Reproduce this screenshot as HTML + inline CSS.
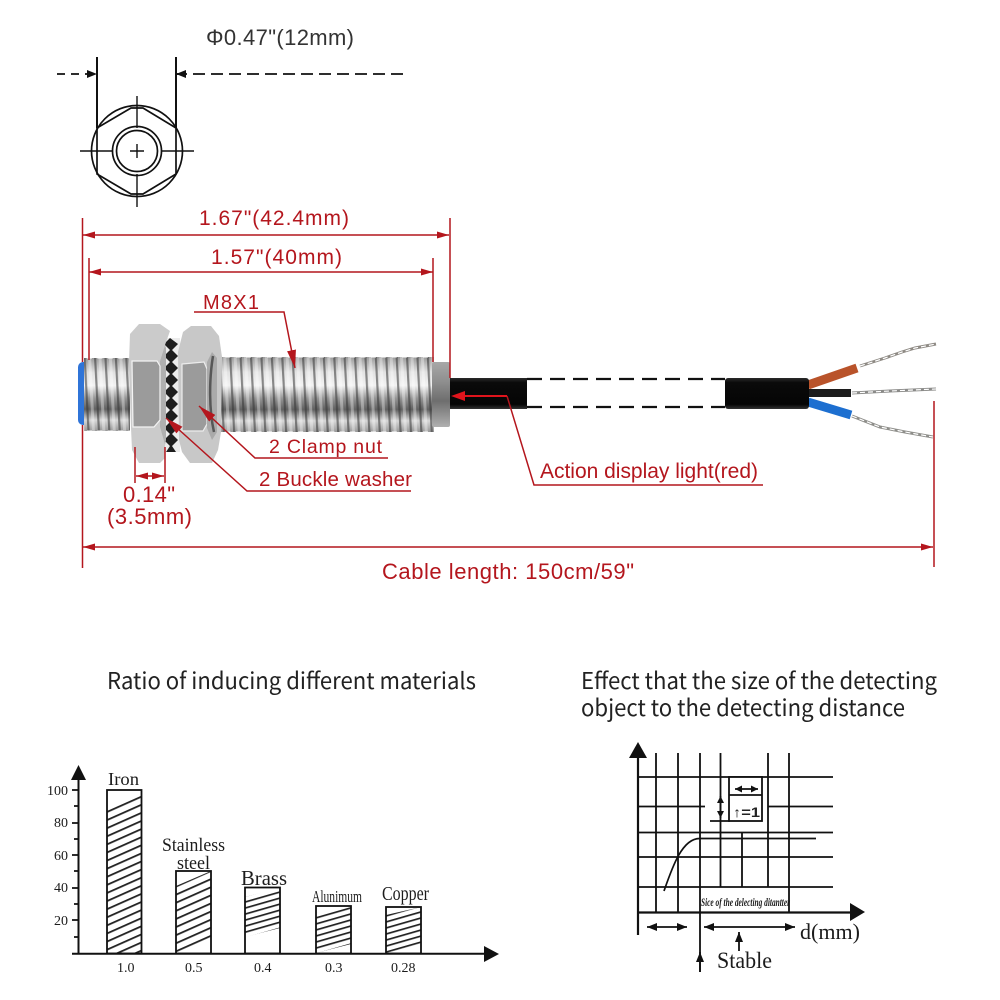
<!DOCTYPE html>
<html>
<head>
<meta charset="utf-8">
<style>
html,body{margin:0;padding:0;background:#fff;width:1000px;height:1000px;overflow:hidden}
svg{display:block}
.r{font-family:"Liberation Sans",sans-serif;fill:#b4161d;font-size:21px}
.h{font-family:"Noto Sans CJK SC","Liberation Sans",sans-serif;fill:#222;font-size:23px}
.t{font-family:"Liberation Serif",serif;fill:#1c1c1c}
</style>
</head>
<body>
<svg width="1000" height="1000" viewBox="0 0 1000 1000" xmlns="http://www.w3.org/2000/svg">
<defs>
<linearGradient id="metal" x1="0" y1="0" x2="0" y2="1">
<stop offset="0" stop-color="#9a9a9a"/><stop offset=".2" stop-color="#e2e2e2"/><stop offset=".38" stop-color="#f2f2f2"/><stop offset=".55" stop-color="#969696"/><stop offset=".7" stop-color="#606060"/><stop offset=".85" stop-color="#d8d8d8"/><stop offset="1" stop-color="#989898"/>
</linearGradient>
<linearGradient id="col" x1="0" y1="0" x2="0" y2="1">
<stop offset="0" stop-color="#a8a8a8"/><stop offset=".3" stop-color="#8f8f8f"/><stop offset=".6" stop-color="#6e6e6e"/><stop offset="1" stop-color="#b0b0b0"/>
</linearGradient>
<linearGradient id="cab" x1="0" y1="0" x2="0" y2="1">
<stop offset="0" stop-color="#2a2a2a"/><stop offset=".15" stop-color="#0a0a0a"/><stop offset=".85" stop-color="#050505"/><stop offset="1" stop-color="#333"/>
</linearGradient>
<pattern id="thread" patternUnits="userSpaceOnUse" width="10.4" height="90" patternTransform="translate(0 350) skewX(3)">
<rect x="0" y="0" width="2.2" height="90" fill="#333" opacity=".55"/>
<rect x="4.500" y="0" width="3" height="90" fill="#fff" opacity=".35"/>
</pattern>
<pattern id="hatch" patternUnits="userSpaceOnUse" width="20" height="7.4" patternTransform="rotate(-24)">
<rect width="20" height="1.8" fill="#222"/>
</pattern>
<pattern id="hatch2" patternUnits="userSpaceOnUse" width="20" height="5.8" patternTransform="rotate(-16)">
<rect width="20" height="1.7" fill="#222"/>
</pattern>
<marker id="ra" viewBox="0 0 12 7" refX="12" refY="3.500" markerWidth="12" markerHeight="7" orient="auto-start-reverse" markerUnits="userSpaceOnUse"><path d="M0 0L12 3.500L0 7Z" fill="#b4161d"/></marker>
<marker id="rb" viewBox="0 0 18 9" refX="18" refY="4.500" markerWidth="18" markerHeight="9" orient="auto-start-reverse" markerUnits="userSpaceOnUse"><path d="M0 0L18 4.500L0 9Z" fill="#b4161d"/></marker>
<marker id="ka" viewBox="0 0 10 8" refX="10" refY="4" markerWidth="10" markerHeight="8" orient="auto-start-reverse" markerUnits="userSpaceOnUse"><path d="M0 0L10 4L0 8Z" fill="#111"/></marker>
<marker id="kb" viewBox="0 0 7 7" refX="7" refY="3.500" markerWidth="7" markerHeight="7" orient="auto-start-reverse" markerUnits="userSpaceOnUse"><path d="M0 0L7 3.500L0 7Z" fill="#111"/></marker>
</defs>
<rect width="1000" height="1000" fill="#fff"/>

<!-- top view -->
<text x="206" y="45" font-family="Liberation Sans,sans-serif" font-size="22" fill="#333" textLength="148">Φ0.47"(12mm)</text>
<g fill="none" stroke="#111" stroke-width="1.700">
<path d="M97 57V128M176 57V128" stroke-width="2"/>
<path d="M57 74H97" stroke-dasharray="8 6" marker-end="url(#ka)"/>
<path d="M403 74H176" stroke-dasharray="12 6" stroke-width="1.800"/>
<path d="M186 74H176" marker-end="url(#ka)"/>
<circle cx="137" cy="151" r="45.500"/>
<polygon points="131,108 143,108 176,128 176,174 143,194 131,194 97,174 97,128"/>
<circle cx="137" cy="151" r="24.500"/>
<circle cx="137" cy="151" r="20.500"/>
<path d="M80 151H113M161 151H194M137 96V128M137 174V207M130 151H144M137 144V158" stroke-width="1.400"/>
</g>

<!-- sensor body -->
<rect x="78" y="362" width="12" height="63" rx="5" fill="#2f74d8"/>
<rect x="84" y="358" width="46" height="73" fill="url(#metal)"/>
<rect x="84" y="358" width="46" height="73" fill="url(#thread)"/>
<rect x="210" y="357" width="224" height="75" fill="url(#metal)"/>
<rect x="210" y="357" width="224" height="75" fill="url(#thread)"/>
<path d="M87 357H130M215 356H432" stroke="#fff" stroke-width="3" stroke-dasharray="5 5.400"/>
<path d="M87 432H130M215 433H432" stroke="#fff" stroke-width="3" stroke-dasharray="5 5.400"/>
<rect x="432" y="362" width="18" height="65" rx="2" fill="url(#col)"/>
<rect x="450" y="378" width="77" height="31" fill="url(#cab)"/>

<!-- washer -->
<path d="M160 338H180V452H160Z" fill="#ececec"/>
<path d="M170 338L178 344L172 350L178 356L172 362L178 368L172 374L178 380L172 386L178 392L172 398L178 404L172 410L178 416L172 422L178 428L172 434L178 440L172 446L176 452H166L170 446L164 440L170 434L164 428L170 422L164 416L170 410L164 404L170 398L164 392L170 386L164 380L170 374L164 368L170 362L164 356L170 350L164 344Z" fill="#1e1e1e"/>

<!-- nut 1 -->
<path d="M129 362L130 334L139 324H160L170 331L165 345L160 361V427L165 445L165 458L160 463H139L132 450L131 428Z" fill="#cbcbcb"/>
<path d="M160 361L165 345L166 348V440L165 445L160 427Z" fill="#b0b0b0"/>
<path d="M132 361H157L160 366V420L154 427H133Z" fill="#9b9b9b" stroke="#f4f4f4" stroke-width="1.200"/>
<!-- nut 2 -->
<path d="M178 352L183 332L191 326H211L219 336L222 357L221 432L218 450L212 463H190L182 452L179 440Z" fill="#c8c8c8"/>
<path d="M182 364L204 362L207 369V424L203 431H182Z" fill="#9b9b9b" stroke="#ececec" stroke-width="1.200"/>
<path d="M207 362L212 352L217 358V432L212 440L207 428Z" fill="#aaa"/>
<path d="M213 356C209 380 209 410 214 432" fill="none" stroke="#333" stroke-width="2.500" opacity=".7"/>

<!-- cable right -->
<path d="M527 379H725M527 407H725" stroke="#111" stroke-width="2.200" stroke-dasharray="15 8"/>
<path d="M808 385L857 368" stroke="#b9532a" stroke-width="9"/>
<path d="M808 393H851" stroke="#1c1c1c" stroke-width="8"/>
<path d="M808 402L851 415" stroke="#1d6fd0" stroke-width="9"/>
<path d="M860 366L885 358L902 352L915 348L936 344" fill="none" stroke="#8e8a84" stroke-width="3"/>
<path d="M860 366L885 358L902 352L915 348L936 344" fill="none" stroke="#fff" stroke-width="1.200" stroke-dasharray="5 3"/>
<path d="M852 393L890 391L936 389" fill="none" stroke="#8a8a88" stroke-width="3"/>
<path d="M852 393L890 391L936 389" fill="none" stroke="#fff" stroke-width="1.200" stroke-dasharray="5 3"/>
<path d="M852 416L880 427L905 432L933 437" fill="none" stroke="#8e8e8a" stroke-width="3"/>
<path d="M852 416L880 427L905 432L933 437" fill="none" stroke="#fff" stroke-width="1.200" stroke-dasharray="5 3"/>
<rect x="725" y="378" width="84" height="31" rx="3" fill="url(#cab)"/>

<!-- red dims -->
<g fill="none" stroke="#b4161d" stroke-width="1.500">
<path d="M82.500 218V362M82.500 425V568M450 218V378M89 258V360M433 258V362M934 401V567"/>
<path d="M83 235H449" marker-start="url(#ra)" marker-end="url(#ra)"/>
<path d="M89 272H433" marker-start="url(#ra)" marker-end="url(#ra)"/>
<path d="M83 547H933" marker-start="url(#ra)" marker-end="url(#ra)"/>
<path d="M135 447V483M165 447V483"/>
<path d="M136 476H164" marker-start="url(#ra)" marker-end="url(#ra)"/>
<path d="M194 312H284L295 368" marker-end="url(#rb)"/>
<path d="M388 458H255L199 406" marker-end="url(#rb)"/>
<path d="M411 491H247L166 418" marker-end="url(#rb)"/>
<path d="M763 485H534L507 396"/>
</g>
<path d="M507 396H461" stroke="#e0141c" stroke-width="2"/>
<path d="M451 396L465 391V401Z" fill="#e0141c"/>

<text class="r" x="199" y="225" textLength="150">1.67"(42.4mm)</text>
<text class="r" x="211" y="264" textLength="131">1.57"(40mm)</text>
<text class="r" x="203" y="309" textLength="56" style="font-size:20px">M8X1</text>
<text class="r" x="269" y="453" textLength="113" style="font-size:19.500px">2 Clamp nut</text>
<text class="r" x="259" y="486" textLength="153" style="font-size:20.500px">2 Buckle washer</text>
<text class="r" x="123" y="502" textLength="52" style="font-size:22px">0.14"</text>
<text class="r" x="107" y="524" textLength="85" style="font-size:22px">(3.5mm)</text>
<text class="r" x="540" y="478" textLength="218">Action display light(red)</text>
<text class="r" x="382" y="579" textLength="252" style="font-size:22px">Cable length: 150cm/59"</text>

<!-- headings -->
<text class="h" x="107" y="689" textLength="369" lengthAdjust="spacingAndGlyphs">Ratio of inducing different materials</text>
<text class="h" x="581" y="689" textLength="356" lengthAdjust="spacingAndGlyphs">Effect that the size of the detecting</text>
<text class="h" x="581" y="716" textLength="324" lengthAdjust="spacingAndGlyphs">object to the detecting distance</text>

<!-- chart 1 -->
<g fill="none" stroke="#111" stroke-width="1.800">
<polygon points="107,809 141,792 141,953 107,953" fill="url(#hatch)" stroke="none"/>
<polygon points="176,886 211,871 211,940 176,953" fill="url(#hatch)" stroke="none"/>
<polygon points="245,897 280,888 280,928 245,937" fill="url(#hatch2)" stroke="none"/>
<polygon points="316,913 351,906 351,944 316,953" fill="url(#hatch2)" stroke="none"/>
<polygon points="386,915 421,907 421,945 386,953" fill="url(#hatch2)" stroke="none"/>
<rect x="107" y="790" width="34.500" height="163.500"/>
<rect x="176" y="871" width="35" height="82.500"/>
<rect x="245" y="887.500" width="35" height="66"/>
<rect x="316" y="906" width="35" height="47.500"/>
<rect x="386" y="907" width="35" height="46.500"/>
<path d="M78.500 770V953.500M72 953.700H488" stroke-width="2"/>
<path d="M72 790H78M72 823H78M72 855H78M72 888H78M72 920H78M74 806H78M74 839H78M74 871H78M74 904H78M74 937H78"/>
</g>
<path d="M78.500 765L86 780H71Z M499 954L484 946V962Z" fill="#111"/>
<g class="t" font-size="14" fill="#333">
<text x="47" y="795">100</text><text x="54" y="827">80</text><text x="54" y="860">60</text><text x="54" y="892">40</text><text x="54" y="925">20</text>
<text x="117" y="972">1.0</text><text x="185" y="972">0.5</text><text x="254" y="972">0.4</text><text x="325" y="972">0.3</text><text x="391" y="972">0.28</text>
</g>
<g class="t">
<text x="108" y="785" font-size="18" textLength="31" lengthAdjust="spacingAndGlyphs">Iron</text>
<text x="162" y="851" font-size="19" textLength="63" lengthAdjust="spacingAndGlyphs">Stainless</text>
<text x="177" y="869" font-size="19" textLength="33" lengthAdjust="spacingAndGlyphs">steel</text>
<text x="241" y="885" font-size="21" textLength="46" lengthAdjust="spacingAndGlyphs">Brass</text>
<text x="312" y="902" font-size="17" textLength="50" lengthAdjust="spacingAndGlyphs">Alunimum</text>
<text x="382" y="900" font-size="20" textLength="47" lengthAdjust="spacingAndGlyphs">Copper</text>
</g>

<!-- chart 2 -->
<g fill="none" stroke="#111" stroke-width="1.800">
<path d="M638 757V935M638 912.500H850" stroke-width="2.200"/>
<path d="M656 753V912M678 753V912M700 753V972M720.500 753V887M768 753V887M789 753V912M742 833V887"/>
<path d="M638 777H833M638 806.500H705M768 806.500H833M710 821H730M638 832.500H833M638 857H833M638 887H833"/>
<rect x="729" y="777" width="33" height="44" fill="#fff"/>
<path d="M729 795H762"/>
<path d="M664 891C672 868 682 838 700 838.500H816" stroke-width="1.700"/>
<path d="M735 789H758" marker-start="url(#kb)" marker-end="url(#kb)"/>
<path d="M720.500 796V818" marker-start="url(#kb)" marker-end="url(#kb)"/>
<path d="M647 927H687" marker-start="url(#ka)" marker-end="url(#ka)"/>
<path d="M704 927H795" marker-start="url(#ka)" marker-end="url(#ka)"/>
<path d="M739 951V932" marker-end="url(#ka)"/>
<path d="M700 972V952" marker-end="url(#ka)"/>
</g>
<path d="M638 742L647 758H629Z M865 912L850 903V921Z" fill="#111"/>
<text x="733" y="817" font-family="Liberation Sans,sans-serif" font-size="14" font-weight="bold" fill="#222" textLength="27" lengthAdjust="spacingAndGlyphs">↑=1</text>
<text class="t" x="701" y="906" font-size="12" font-style="italic" font-weight="bold" textLength="89" lengthAdjust="spacingAndGlyphs">Sice of the delecting ditantter</text>
<text class="t" x="800" y="939" font-size="22" textLength="60" lengthAdjust="spacingAndGlyphs">d(mm)</text>
<text class="t" x="717" y="968" font-size="23" textLength="55" lengthAdjust="spacingAndGlyphs">Stable</text>
</svg>
</body>
</html>
